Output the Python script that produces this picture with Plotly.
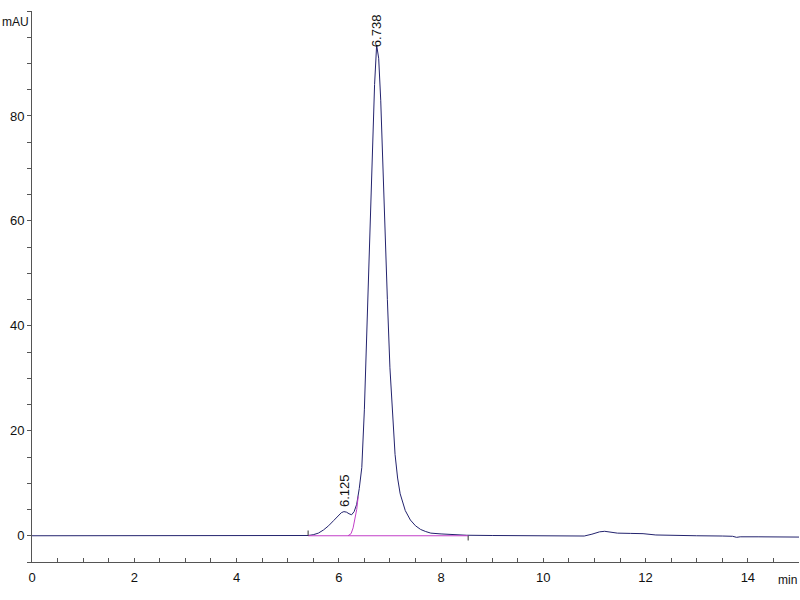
"""
SEC-HPLC chromatogram: main peak at 6.738 min with a 6.125 min shoulder
"""
import plotly.graph_objs as go

# retention time (min) and absorbance (mAU)
time_min = [0, 1, 2, 3, 4, 5, 5.3, 5.4, 5.5, 5.6, 5.7, 5.8, 5.9, 6.0, 6.05, 6.1,
            6.15, 6.2, 6.25, 6.3, 6.35, 6.4, 6.45, 6.5, 6.55, 6.6, 6.65, 6.7,
            6.74, 6.78, 6.82, 6.86, 6.9, 6.95, 7.0, 7.05, 7.1, 7.15, 7.2, 7.3,
            7.4, 7.5, 7.6, 7.7, 7.8, 8.0, 8.5, 9.0, 9.5, 10.0, 10.5, 10.8,
            10.95, 11.1, 11.2, 11.3, 11.45, 11.7, 11.95, 12.2, 12.5, 13.0, 13.5,
            13.7, 13.78, 13.85, 14.2, 14.6, 15.0]
signal_mau = [0, 0, 0, 0, 0, 0, 0, 0.05, 0.2, 0.5, 1.1, 1.9, 2.9, 3.9, 4.4, 4.6,
              4.5, 4.2, 4.0, 4.6, 6.0, 9.0, 13.0, 24.0, 40.0, 56.0, 71.0, 86.0,
              93.5, 91.0, 83.0, 70.0, 58.0, 45.0, 32.0, 22.5, 15.5, 11.0, 8.0, 4.8,
              3.0, 1.9, 1.2, 0.8, 0.5, 0.35, 0.1, 0.05, 0.05, 0, -0.05, -0.05,
              0.3, 0.75, 0.85, 0.7, 0.5, 0.45, 0.4, 0.15, 0.05, 0, -0.05,
              -0.1, -0.3, -0.2, -0.2, -0.25, -0.25]

# integration: baseline and the split of the main peak under the shoulder
baseline_time = [5.4, 8.53]
baseline_mau = [0, 0]
split_time = [6.18, 6.24, 6.28, 6.32, 6.35, 6.38]
split_mau = [0, 0.4, 1.5, 3.2, 5.0, 7.5]
event_time = [5.4, 8.53]
event_len = [1.0, -0.9]

peak_rt = ['6.125', '6.738']
peak_x = [6.1, 6.738]
peak_y = [4.6, 93.5]

navy = '#23236e'
magenta = '#c23fc8'
axis_font = 'Liberation Sans, Arial, sans-serif'

data = [
    go.Scatter(x=time_min, y=signal_mau, mode='lines',
               line={'color': navy, 'width': 1}),
    go.Scatter(x=baseline_time, y=baseline_mau, mode='lines',
               line={'color': magenta, 'width': 1}),
    go.Scatter(x=split_time, y=split_mau, mode='lines',
               line={'color': magenta, 'width': 1}),
]
for t, h in zip(event_time, event_len):
    data.append(go.Scatter(x=[t, t], y=[0, h], mode='lines',
                           line={'color': '#333333', 'width': 1}))

annotations = []
for label, x, y in zip(peak_rt, peak_x, peak_y):
    annotations.append(dict(
        x=x, y=y, text=label, textangle=-90, showarrow=False,
        xanchor='center', yanchor='bottom', yshift=3 if y < 50 else -4,
        font={'family': 'Liberation Sans, Arial, sans-serif', 'size': 13,
              'color': '#111111'}))
annotations.append(dict(
    x=0, y=1, xref='paper', yref='paper', text='mAU', showarrow=False,
    xanchor='left', yanchor='top', xshift=-32, yshift=-2,
    font={'family': axis_font, 'size': 12, 'color': '#111111'}))
annotations.append(dict(
    x=1, y=0, xref='paper', yref='paper', text='min', showarrow=False,
    xanchor='right', yanchor='top', xshift=0, yshift=-9,
    font={'family': axis_font, 'size': 12, 'color': '#111111'}))

layout = go.Layout(
    width=800, height=600,
    margin={'l': 32, 'r': 1, 't': 11, 'b': 38},
    paper_bgcolor='white', plot_bgcolor='white',
    showlegend=False,
    font={'family': axis_font, 'size': 13, 'color': '#111111'},
    xaxis={'range': [0, 15], 'dtick': 2, 'tick0': 0, 'ticks': 'inside',
           'ticklen': 4, 'tickcolor': '#555555', 'showline': True,
           'linecolor': '#555555', 'linewidth': 1, 'showgrid': False,
           'zeroline': False, 'automargin': False, 'ticklabelstandoff': 3,
           'minor': {'dtick': 0.5, 'ticks': 'inside', 'ticklen': 4,
                     'tickcolor': '#555555', 'showgrid': False}},
    yaxis={'range': [-5, 100], 'tickvals': [0, 20, 40, 60, 80],
           'ticks': 'outside', 'ticklen': 4, 'tickcolor': '#555555',
           'showline': True, 'linecolor': '#555555', 'linewidth': 1,
           'showgrid': False, 'zeroline': False, 'automargin': False,
           'minor': {'dtick': 5, 'tick0': 0, 'ticks': 'outside', 'ticklen': 4,
                     'tickcolor': '#555555', 'showgrid': False}},
    annotations=annotations,
)

fig = go.Figure(data=data, layout=layout)
# drop the page's default body margin so the figure sits at the window corner
fig.write_html('out.html', config={'displayModeBar': False},
               post_script="document.body.style.margin = '0';")
